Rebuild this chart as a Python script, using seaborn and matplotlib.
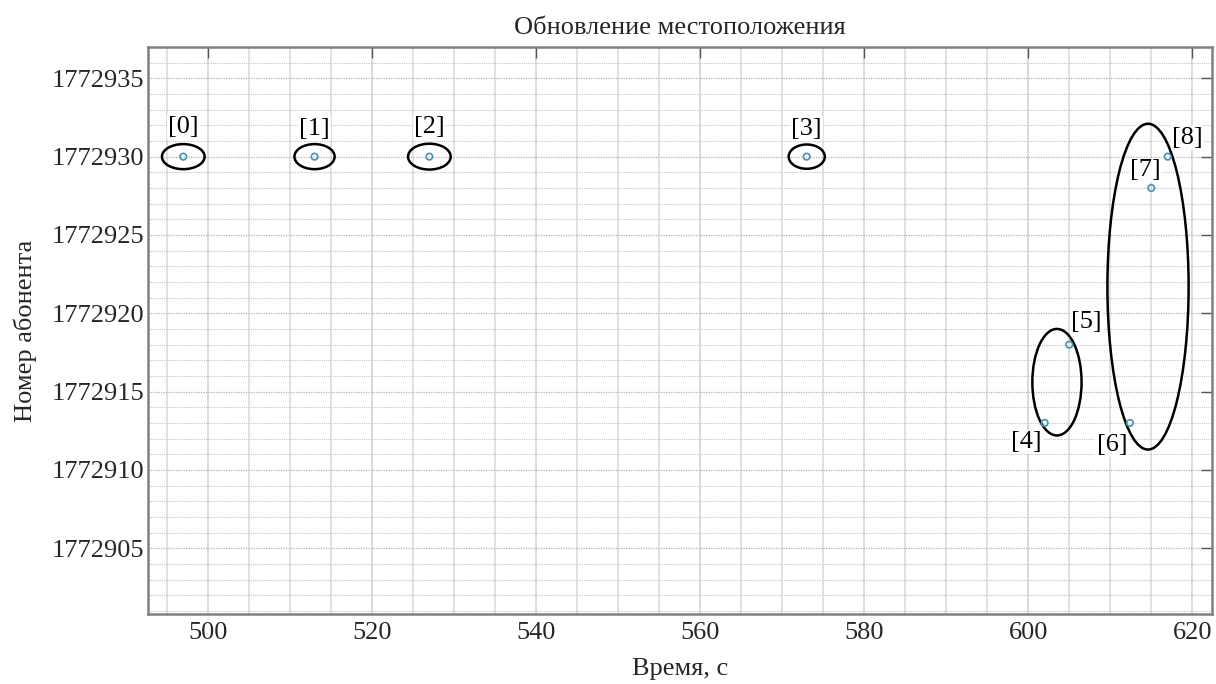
import numpy as np
import pandas as pd
import matplotlib
matplotlib.use("Agg")
import matplotlib.pyplot as plt
from matplotlib.patches import Ellipse
from matplotlib.ticker import MultipleLocator
import seaborn as sns

# ---- data ----
times = [497, 513, 527, 573, 602, 605, 612.4, 615, 617]
subscribers = [1772930, 1772930, 1772930, 1772930, 1772913, 1772918, 1772913, 1772928, 1772930]
labels = ["[0]", "[1]", "[2]", "[3]", "[4]", "[5]", "[6]", "[7]", "[8]"]

# groups (ellipses): center x, center y, width, height
ell_cx = [497, 513, 527, 573, 603.5, 614.6]
ell_cy = [1772930, 1772930, 1772930, 1772930, 1772915.6, 1772921.7]
ell_w = [5.2, 4.9, 5.2, 4.4, 6.0, 9.9]
ell_h = [1.6, 1.6, 1.65, 1.55, 6.8, 20.8]

title = "Обновление местоположения"
xlabel = "Время, с"
ylabel = "Номер абонента"

df = pd.DataFrame({"t": times, "n": subscribers})

sns.set_theme(style="white")
plt.rcParams["font.family"] = ["Liberation Serif", "DejaVu Serif"]

fig = plt.figure(figsize=(12.16, 6.84), dpi=100)
ax = fig.add_axes([148 / 1216, 1 - 614 / 684, (1212 - 148) / 1216, (614 - 47) / 684])

sns.scatterplot(data=df, x="t", y="n", ax=ax, s=22, marker="o",
                facecolor="none", edgecolor="#4a93ad", linewidth=1.2, zorder=5)

for cx, cy, w, h in zip(ell_cx, ell_cy, ell_w, ell_h):
    ax.add_patch(Ellipse((cx, cy), w, h, fill=False, edgecolor="black", linewidth=1.8, zorder=4))

offsets = [(0, 30), (0, 28), (0, 30), (0, 28), (-18, -19), (17, 23), (-18, -22), (-6, 18), (20, 19)]
for x, y, lab, (dx, dy) in zip(times, subscribers, labels, offsets):
    ax.annotate(lab, (x, y), xytext=(dx * 0.72, dy * 0.72), textcoords="offset points",
                ha="center", va="center", fontsize=19, color="black", zorder=6,
                bbox=dict(boxstyle="square,pad=0.05", fc="white", ec="none", alpha=0.9))

ax.set_xlim(492.7, 622.4)
ax.set_ylim(1772900.8, 1772937.0)
ax.xaxis.set_major_locator(MultipleLocator(20))
ax.xaxis.set_minor_locator(MultipleLocator(5))
ax.yaxis.set_major_locator(MultipleLocator(5))
ax.yaxis.set_minor_locator(MultipleLocator(1))
ax.ticklabel_format(useOffset=False, style="plain", axis="y")

ax.grid(which="minor", axis="x", color="#dcdcdc", linestyle="-", linewidth=1.2)
ax.grid(which="major", axis="x", color="#d4d4d4", linestyle="-", linewidth=1.2)
ax.grid(which="minor", axis="y", color="#c4c4c4", linestyle=(0, (1, 1)), linewidth=0.8)
ax.grid(which="major", axis="y", color="#b4b4b4", linestyle=(0, (1, 1)), linewidth=0.9)
ax.set_axisbelow(True)

ax.tick_params(which="major", direction="in", length=8, width=1.0, color="#555555",
               top=True, right=True, labelsize=19, pad=6)
ax.tick_params(axis="y", which="major", pad=3)
ax.tick_params(which="minor", length=0)
for sp in ax.spines.values():
    sp.set_color("#808080")
    sp.set_linewidth(1.8)

ax.set_title(title, fontsize=19, pad=9)
ax.set_xlabel(xlabel, fontsize=19, labelpad=10)
ax.set_ylabel(ylabel, fontsize=19, labelpad=10)

fig.savefig("out.png", dpi=100)
